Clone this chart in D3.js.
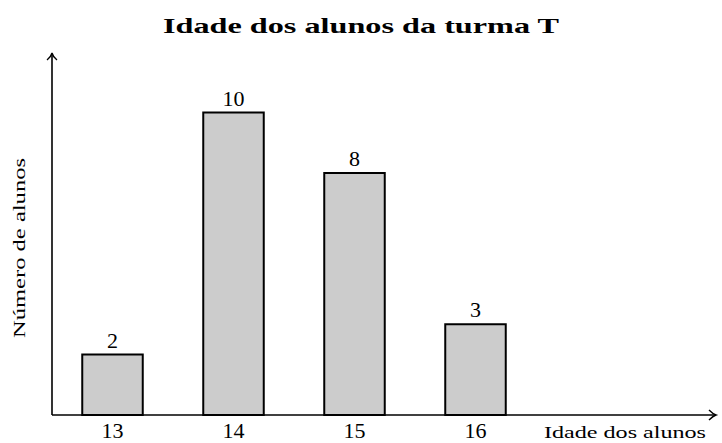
<!DOCTYPE html>
<html>
<head>
<meta charset="utf-8">
<script src="https://cdn.jsdelivr.net/npm/d3@7"></script>
<style>
  body { margin: 0; background: #fff; }
  text { font-family: "Liberation Serif", "DejaVu Serif", serif; fill: #000; }
</style>
</head>
<body>
<div id="chart"></div>
<script>
// data
const idades = ["13", "14", "15", "16"]
const alunos = [2, 10, 8, 3]
const titulo = "Idade dos alunos da turma T"

const svg = d3.select("#chart")
    .append("svg")
    .attr("width", 722)
    .attr("height", 443)

const x0 = 52, y0 = 415

const x = d3.scaleBand()
    .domain(idades)
    .range([x0, x0 + 484])
    .paddingInner(0.5)
    .paddingOuter(0.25)

const y = d3.scaleLinear()
    .domain([0, 10])
    .range([y0, 112.5])

// bars
svg.selectAll("rect")
    .data(idades)
    .enter().append("rect")
    .attr("x", d => x(d))
    .attr("y", (d, i) => y(alunos[i]))
    .attr("width", x.bandwidth())
    .attr("height", (d, i) => y0 - y(alunos[i]))
    .attr("fill", "#cccccc")
    .attr("stroke", "#000")
    .attr("stroke-width", 2)

// value labels
svg.selectAll(".val")
    .data(idades)
    .enter().append("text")
    .attr("class", "val")
    .attr("x", d => x(d) + x.bandwidth() / 2)
    .attr("y", (d, i) => y(alunos[i]) - 7)
    .attr("text-anchor", "middle")
    .style("font-size", "22px")
    .text((d, i) => alunos[i])

// axes with arrows
svg.append("line")
    .attr("x1", x0).attr("y1", y0)
    .attr("x2", 715).attr("y2", y0)
    .attr("stroke", "#000").attr("stroke-width", 1.6)
svg.append("line")
    .attr("x1", x0).attr("y1", y0)
    .attr("x2", x0).attr("y2", 54)
    .attr("stroke", "#000").attr("stroke-width", 1.6)
svg.append("path")
    .attr("d", `M709,${y0 - 5} Q713,${y0 - 1} 716,${y0} Q713,${y0 + 1} 709,${y0 + 5}`)
    .attr("fill", "none").attr("stroke", "#000").attr("stroke-width", 1.4)
svg.append("path")
    .attr("d", `M${x0 - 5},60 Q${x0 - 1},57 ${x0},53 Q${x0 + 1},57 ${x0 + 5},60`)
    .attr("fill", "none").attr("stroke", "#000").attr("stroke-width", 1.4)

// tick labels
svg.selectAll(".tick")
    .data(idades)
    .enter().append("text")
    .attr("class", "tick")
    .attr("x", d => x(d) + x.bandwidth() / 2)
    .attr("y", 438)
    .attr("text-anchor", "middle")
    .style("font-size", "22px")
    .text(d => d)

// axis titles
svg.append("text")
    .attr("x", 706)
    .attr("y", 438)
    .attr("text-anchor", "end")
    .style("font-size", "16px")
    .attr("textLength", 162)
    .attr("lengthAdjust", "spacingAndGlyphs")
    .text("Idade dos alunos")

svg.append("text")
    .attr("transform", "translate(25,248) rotate(-90)")
    .attr("text-anchor", "middle")
    .style("font-size", "16px")
    .attr("textLength", 180)
    .attr("lengthAdjust", "spacingAndGlyphs")
    .text("Número de alunos")

svg.append("text")
    .attr("x", 361)
    .attr("y", 33)
    .attr("text-anchor", "middle")
    .style("font-size", "21px")
    .style("font-weight", "bold")
    .attr("textLength", 396)
    .attr("lengthAdjust", "spacingAndGlyphs")
    .text(titulo)
</script>
</body>
</html>
